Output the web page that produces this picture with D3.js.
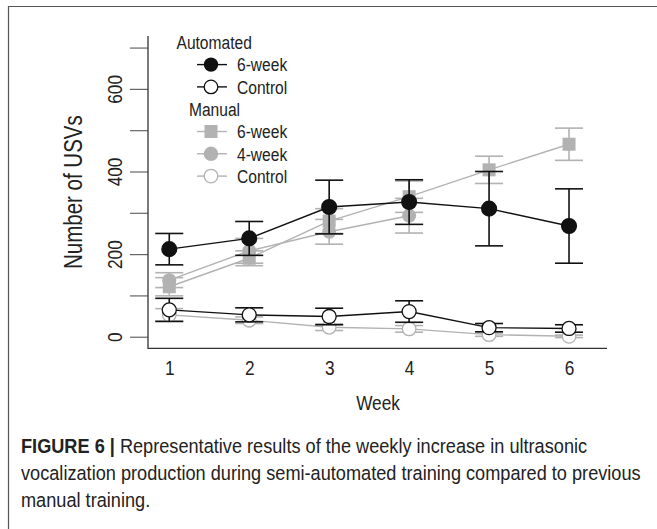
<!DOCTYPE html>
<html><head><meta charset="utf-8">
<script src="https://cdn.jsdelivr.net/npm/d3@7"></script>
<style>
html,body{margin:0;padding:0;background:#fff;}
svg{display:block;}
</style></head>
<body>
<svg id="chart" width="657" height="529"></svg>
<script>
// ---- data ----
const weeks = [1, 2, 3, 4, 5, 6];
const yTicks = [0, 100, 200, 300, 400, 500, 600, 700];
const yTickLabels = ["0", "", "200", "", "400", "", "600", ""];
const autoSixMean = [212, 238, 314, 326, 310, 268];
const autoSixErr  = [38, 41, 65, 54, 90, 90];
const autoCtrlMean = [65, 53, 49, 61, 22, 20];
const autoCtrlErr  = [28, 17, 20, 26, 10, 9];
const manSixMean = [121, 190, 280, 339, 404, 466];
const manSixErr  = [22, 18, 30, 38, 33, 39];
const manFourWeeks = [1, 2, 3, 4];
const manFourMean = [137, 208, 254, 293];
const manFourErr  = [18, 30, 30, 42];
const manCtrlMean = [53, 40, 23, 19, 5, 1];
const manCtrlErr  = [15, 8, 8, 8, 4, 3];
const legendGroups = ["Automated", "Manual"];
const legendAuto = ["6-week", "Control"];
const legendManual = ["6-week", "4-week", "Control"];
const captionBold = "FIGURE 6 |";
const captionLines = [
  " Representative results of the weekly increase in ultrasonic",
  "vocalization production during semi-automated training compared to previous",
  "manual training."
];

// ---- layout ----
const svg = d3.select("#chart");
const plot = {left: 148, right: 607, top: 36, bottom: 348.3};
const x = d3.scaleLinear().domain([0.734, 6.475]).range([plot.left, plot.right]);
const y = d3.scaleLinear().domain([-28, 728]).range([plot.bottom, plot.top]);
const FONT = "'Liberation Sans', Arial, sans-serif";
const NARROW = 0.82;
const GRAY = "#b2b2b2";
const BLACK = "#111";

// frame
svg.append("path").attr("d", "M8.5,529 L8.5,6.5 L657,6.5")
  .attr("fill", "none").attr("stroke", "#555").attr("stroke-width", 1.2);

// axes
const gy = svg.append("g").attr("transform", `translate(${plot.left},0)`)
  .call(d3.axisLeft(y).tickValues(yTicks).tickSize(18).tickPadding(16)
    .tickFormat((d, i) => yTickLabels[i]));
gy.select(".domain").remove();
gy.selectAll(".tick line").attr("stroke", "#666").attr("stroke-width", 1.2);
gy.selectAll(".tick text")
  .attr("font-family", FONT).attr("font-size", 21).attr("fill", "#222")
  .attr("text-anchor", "middle")
  .attr("x", null).attr("dy", null)
  .attr("transform", `translate(-33.5,0) rotate(-90) scale(${NARROW},1)`)
  .attr("dominant-baseline", "central");

const gx = svg.append("g").attr("transform", `translate(0,${plot.bottom})`)
  .call(d3.axisBottom(x).tickValues(weeks).tickSize(0).tickPadding(12).tickFormat(d3.format("d")));
gx.select(".domain").remove();
gx.selectAll(".tick text").attr("font-family", FONT).attr("font-size", 21).attr("fill", "#222")
  .attr("transform", `scale(${NARROW},1)`);

// L box
svg.append("path")
  .attr("d", `M${plot.left},${plot.top} L${plot.left},${plot.bottom} L${plot.right},${plot.bottom}`)
  .attr("fill", "none").attr("stroke", "#333").attr("stroke-width", 1.3);

// axis titles
svg.append("text").attr("transform", `translate(378,410) scale(${NARROW},1)`)
  .attr("text-anchor", "middle").attr("font-family", FONT).attr("font-size", 21).attr("fill", "#222")
  .text("Week");
svg.append("text").attr("transform", `translate(82,${(plot.top + plot.bottom) / 2}) rotate(-90) scale(${NARROW},1)`)
  .attr("text-anchor", "middle").attr("font-family", FONT).attr("font-size", 25).attr("fill", "#222")
  .text("Number of USVs");

// ---- series drawing ----
const capW = 14;
function errorBars(ws, means, errs, color) {
  const g = svg.append("g").attr("stroke", color).attr("stroke-width", 1.6).attr("fill", "none");
  ws.forEach((w, i) => {
    const cx = x(w), top = y(means[i] + errs[i]), bot = y(means[i] - errs[i]);
    g.append("line").attr("x1", cx).attr("x2", cx).attr("y1", top).attr("y2", bot);
    g.append("line").attr("x1", cx - capW).attr("x2", cx + capW).attr("y1", top).attr("y2", top);
    g.append("line").attr("x1", cx - capW).attr("x2", cx + capW).attr("y1", bot).attr("y2", bot);
  });
}
function seriesLine(ws, means, color) {
  svg.append("path").datum(ws.map((w, i) => [w, means[i]]))
    .attr("d", d3.line().x(d => x(d[0])).y(d => y(d[1])))
    .attr("fill", "none").attr("stroke", color).attr("stroke-width", 1.4);
}
function circles(ws, means, r, fill, stroke) {
  svg.append("g").selectAll("circle").data(ws.map((w, i) => [w, means[i]])).join("circle")
    .attr("cx", d => x(d[0])).attr("cy", d => y(d[1])).attr("r", r)
    .attr("fill", fill).attr("stroke", stroke).attr("stroke-width", 1.3);
}
function squares(ws, means, s, fill) {
  svg.append("g").selectAll("rect").data(ws.map((w, i) => [w, means[i]])).join("rect")
    .attr("x", d => x(d[0]) - s / 2).attr("y", d => y(d[1]) - s / 2)
    .attr("width", s).attr("height", s).attr("fill", fill);
}

// manual (gray) first
errorBars(weeks, manCtrlMean, manCtrlErr, GRAY);
errorBars(manFourWeeks, manFourMean, manFourErr, GRAY);
errorBars(weeks, manSixMean, manSixErr, GRAY);
seriesLine(weeks, manCtrlMean, GRAY);
seriesLine(manFourWeeks, manFourMean, GRAY);
seriesLine(weeks, manSixMean, GRAY);
circles(weeks, manCtrlMean, 6.8, "#fff", GRAY);
circles(manFourWeeks, manFourMean, 7, GRAY, "none");
squares(weeks, manSixMean, 13, GRAY);

// automated (black)
errorBars(weeks, autoCtrlMean, autoCtrlErr, BLACK);
errorBars(weeks, autoSixMean, autoSixErr, BLACK);
seriesLine(weeks, autoCtrlMean, BLACK);
seriesLine(weeks, autoSixMean, BLACK);
circles(weeks, autoCtrlMean, 7, "#fff", BLACK);
circles(weeks, autoSixMean, 7.4, BLACK, BLACK);

// ---- legend ----
const lg = svg.append("g").attr("font-family", FONT).attr("font-size", 19).attr("fill", "#222");
const rowY = i => 42.3 + i * 22.3;
const mx = 211, lx1 = 197, lx2 = 227, tx = 237;
function legendText(x0, y0, label) {
  lg.append("text").attr("transform", `translate(${x0},${y0}) scale(${NARROW},1)`).text(label);
}
legendText(176.5, rowY(0) + 6.8, legendGroups[0]);
function legendRow(row, label, color, kind) {
  const cy = rowY(row);
  lg.append("line").attr("x1", lx1).attr("x2", lx2).attr("y1", cy).attr("y2", cy)
    .attr("stroke", color).attr("stroke-width", 1.4);
  if (kind === "square") {
    lg.append("rect").attr("x", mx - 6.5).attr("y", cy - 6.5).attr("width", 13).attr("height", 13).attr("fill", color);
  } else if (kind === "filled") {
    lg.append("circle").attr("cx", mx).attr("cy", cy).attr("r", 7.2).attr("fill", color);
  } else {
    lg.append("circle").attr("cx", mx).attr("cy", cy).attr("r", 6.8).attr("fill", "#fff")
      .attr("stroke", color).attr("stroke-width", 1.3);
  }
  legendText(tx, cy + 6.8, label);
}
legendRow(1, legendAuto[0], BLACK, "filled");
legendRow(2, legendAuto[1], BLACK, "open");
legendText(189, rowY(3) + 6.8, legendGroups[1]);
legendRow(4, legendManual[0], GRAY, "square");
legendRow(5, legendManual[1], GRAY, "filled");
legendRow(6, legendManual[2], GRAY, "open");

// ---- caption ----
const cap = svg.append("g").attr("font-family", FONT).attr("fill", "#222");
const baseY = [453, 480, 507];
const capScale = 0.86;
function capText(i) {
  return cap.append("text").attr("transform", `translate(21,${baseY[i]}) scale(${capScale},1)`);
}
const t0 = capText(0);
t0.append("tspan").attr("font-weight", "bold").text(captionBold);
t0.append("tspan").text(captionLines[0]);
const t1 = capText(1).text(captionLines[1]);
const t2 = capText(2).text(captionLines[2]);
// fit caption font to the reference line width
cap.selectAll("text").attr("font-size", 18);
const w = t1.node().getComputedTextLength() * capScale;
const fs = 18 * 619 / w;
cap.selectAll("text").attr("font-size", fs);
</script>
</body></html>
